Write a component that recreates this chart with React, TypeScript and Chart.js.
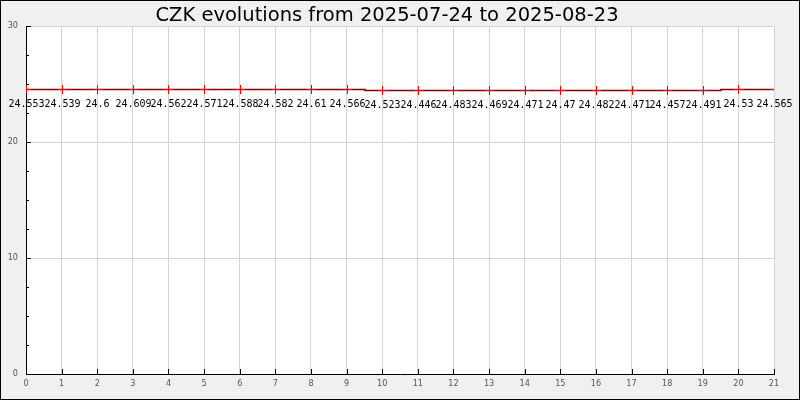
import React, { useEffect, useRef } from 'react';
import { Chart, registerables } from 'chart.js';

Chart.register(...registerables);

const titleText = 'CZK evolutions from 2025-07-24 to 2025-08-23';
const dayIndex = [0, 1, 2, 3, 4, 5, 6, 7, 8, 9, 10, 11, 12, 13, 14, 15, 16, 17, 18, 19, 20, 21];
const czkRates = [
  24.553, 24.539, 24.6, 24.609, 24.562, 24.571, 24.588, 24.582, 24.61, 24.566, 24.523,
  24.446, 24.483, 24.469, 24.471, 24.47, 24.482, 24.471, 24.457, 24.491, 24.53, 24.565,
];
const yMin = 0;
const yMax = 30;
const yMajorStep = 10;
const yMinorStep = 2.5;

const tickFont = { family: '"DejaVu Sans Condensed", "DejaVu Sans"', size: 9 };
const tickColor = '#555555';

const backgroundPlugin = {
  id: 'bgFrame',
  beforeDraw(chart: any) {
    const { ctx, width, height, chartArea } = chart;
    ctx.save();
    ctx.fillStyle = '#f0f0f0';
    ctx.fillRect(0, 0, width, height);
    ctx.fillStyle = '#ffffff';
    ctx.fillRect(chartArea.left, chartArea.top, chartArea.right - chartArea.left, chartArea.bottom - chartArea.top);
    ctx.strokeStyle = '#000000';
    ctx.lineWidth = 1;
    ctx.strokeRect(0.5, 0.5, width - 1, height - 1);
    ctx.restore();
  },
};

// snap the library-computed point positions to the pixel grid (like the reference renderer)
const pixelSnapPlugin = {
  id: 'pixelSnap',
  afterDatasetsUpdate(chart: any) {
    const meta = chart.getDatasetMeta(0);
    meta.data.forEach((pt: any) => {
      pt.x = Math.round(pt.x) + 0.5;
      pt.y = Math.round(pt.y) + 0.5;
    });
  },
};

const innerTicksPlugin = {
  id: 'innerTicks',
  afterDraw(chart: any) {
    const { ctx, chartArea, scales } = chart;
    const xs = scales.x;
    const ys = scales.y;
    ctx.save();
    ctx.strokeStyle = '#000000';
    ctx.lineWidth = 1;
    ctx.beginPath();
    for (let v = yMin; v <= yMax + 1e-9; v += yMinorStep) {
      const py = Math.round(ys.getPixelForValue(v)) + 0.5;
      const major = Math.abs(v / yMajorStep - Math.round(v / yMajorStep)) < 1e-9;
      const len = major ? 5 : 3;
      ctx.moveTo(chartArea.left, py);
      ctx.lineTo(chartArea.left + len, py);
    }
    for (const d of dayIndex) {
      const px = Math.round(xs.getPixelForValue(d)) + 0.5;
      ctx.moveTo(px, chartArea.bottom);
      ctx.lineTo(px, chartArea.bottom - 5);
    }
    ctx.stroke();
    ctx.restore();
  },
};

const valueLabelsPlugin = {
  id: 'valueLabels',
  afterDatasetsDraw(chart: any) {
    const { ctx } = chart;
    const meta = chart.getDatasetMeta(0);
    ctx.save();
    ctx.font = '10px "DejaVu Sans Mono"';
    ctx.fillStyle = '#000000';
    ctx.textAlign = 'center';
    ctx.textBaseline = 'middle';
    meta.data.forEach((pt: any, i: number) => {
      ctx.fillText(String(czkRates[i]), pt.x, pt.y + 15);
    });
    ctx.restore();
  },
};

export default function App() {
  const canvasRef = useRef<HTMLCanvasElement | null>(null);

  useEffect(() => {
    document.body.style.margin = '0';
    const canvas = canvasRef.current;
    if (!canvas) return;
    const chart = new Chart(canvas, {
      type: 'line',
      data: {
        datasets: [
          {
            data: dayIndex.map((d, i) => ({ x: d, y: czkRates[i] })),
            borderColor: '#800000',
            borderWidth: 1.5,
            stepped: 'middle',
            pointStyle: 'cross',
            pointRadius: 4.5,
            pointBorderColor: '#ff0000',
            pointBorderWidth: 1,
            fill: false,
          },
        ],
      },
      options: {
        responsive: false,
        animation: false,
        layout: { padding: { left: 0, right: 26, top: 0, bottom: 0 } },
        plugins: {
          legend: { display: false },
          tooltip: { enabled: false },
          title: {
            display: true,
            text: titleText,
            color: '#000000',
            font: { family: '"DejaVu Sans"', size: 19.5, weight: 'normal', lineHeight: 1 },
            padding: { top: 6, bottom: 0.5 },
          },
        },
        scales: {
          x: {
            type: 'linear',
            min: 0,
            max: 21,
            ticks: {
              stepSize: 1,
              color: tickColor,
              font: tickFont,
              padding: 4,
              maxRotation: 0,
            },
            grid: { color: '#d3d3d3', drawTicks: false },
            border: { color: '#000000' },
            afterFit: (s: any) => {
              s.height = 26;
            },
          },
          y: {
            min: yMin,
            max: yMax,
            ticks: {
              stepSize: yMajorStep,
              color: tickColor,
              font: tickFont,
              padding: 8,
            },
            grid: { color: '#d3d3d3', drawTicks: false },
            border: { color: '#000000' },
            afterFit: (s: any) => {
              s.width = 26;
            },
          },
        },
      },
      plugins: [backgroundPlugin, pixelSnapPlugin, innerTicksPlugin, valueLabelsPlugin],
    });
    return () => chart.destroy();
  }, []);

  return (
    <div style={{ position: 'fixed', left: 0, top: 0, width: 800, height: 400 }}>
      <canvas ref={canvasRef} width={800} height={400} style={{ display: 'block' }} />
    </div>
  );
}
